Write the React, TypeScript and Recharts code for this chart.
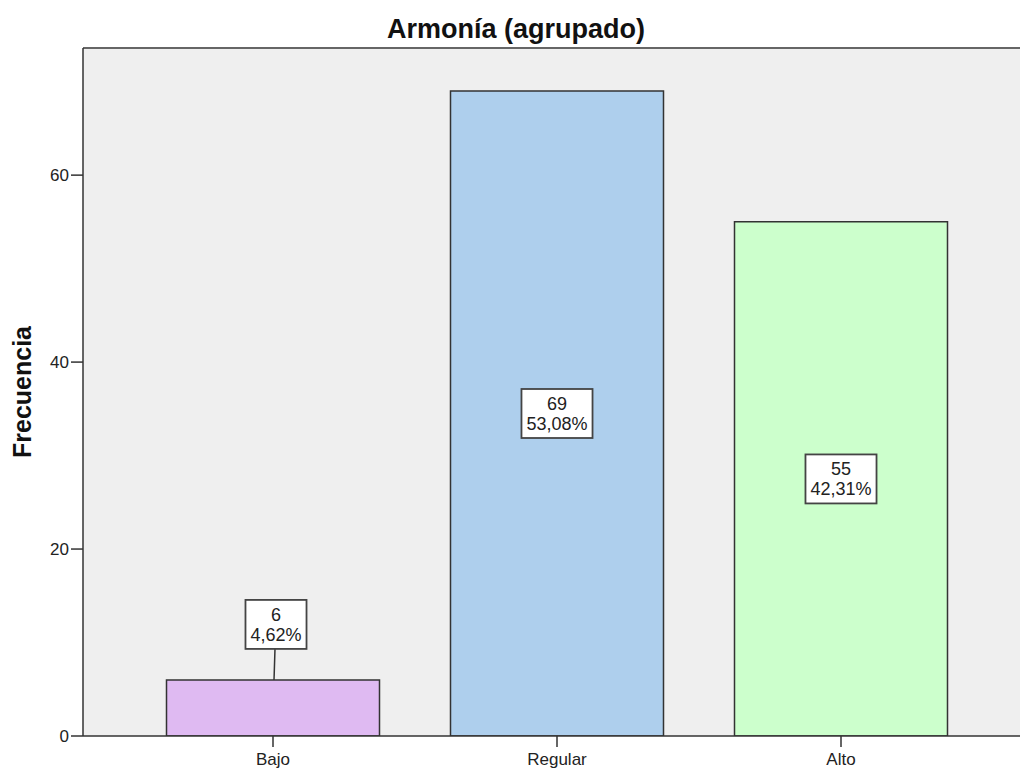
import React from 'react';
import { BarChart, Bar, XAxis, YAxis, CartesianGrid, Cell, LabelList, ReferenceLine, Label } from 'recharts';

const categories = ['Bajo', 'Regular', 'Alto'];
const counts = [6, 69, 55];
const percents = ['4,62%', '53,08%', '42,31%'];
const colors = ['#dfbaf2', '#aecfed', '#ccffcc'];
const yTicks = [0, 20, 40, 60];
const yMax = 73.6;
const title = 'Armonía (agrupado)';
const yLabel = 'Frecuencia';

const data = categories.map((c, i) => ({ name: c, value: counts[i] }));

const FONT = '"Liberation Sans", Arial, sans-serif';

const charW = (ch: string) => {
  if (/[0-9]/.test(ch)) return 0.556;
  if (ch === ',') return 0.278;
  if (ch === '%') return 0.889;
  return 0.556;
};
const textWidth = (s: string) => s.split('').reduce((a, c) => a + charW(c), 0);

const BoxLabel = (props: any) => {
  const { x, y, width, height, index } = props;
  const fs = 18;
  const lines = [String(counts[index]), percents[index]];
  const bw = Math.max(...lines.map(textWidth)) * fs + 10;
  const bh = 49;
  const cx = x + width / 2;
  let cy = y + height / 2;
  let leader = null;
  if (height < bh + 10) {
    cy = y - 31 - bh / 2;
    leader = <line x1={cx + 2} y1={cy + bh / 2} x2={cx + 1} y2={y} stroke="#333" strokeWidth={1.5} />;
  }
  const bx = leader ? cx + 3 : cx;
  return (
    <g>
      {leader}
      <rect x={bx - bw / 2} y={cy - bh / 2} width={bw} height={bh} fill="#ffffff" stroke="#444" strokeWidth={1.8} />
      <text x={bx} y={cy - 3.5} textAnchor="middle" fontSize={fs} fontFamily={FONT} fill="#222">{lines[0]}</text>
      <text x={bx} y={cy + 16.5} textAnchor="middle" fontSize={fs} fontFamily={FONT} fill="#222">{lines[1]}</text>
    </g>
  );
};

const YLabelContent = (props: any) => {
  const vb = props.viewBox || {};
  const x = vb.x + 22;
  const y = vb.y + vb.height / 2;
  return (
    <text x={x} y={y} transform={`rotate(-90, ${x}, ${y})`} textAnchor="middle" dominantBaseline="central"
      fontSize={25} fontWeight="bold" fontFamily={FONT} fill="#111">{yLabel}</text>
  );
};

export default function App() {
  return (
    <div style={{ position: 'absolute', left: 0, top: 0, width: 1020, height: 770, overflow: 'hidden', background: '#fff' }}>
      <BarChart width={1040} height={770} data={data} margin={{ top: 48, right: 9, bottom: 4, left: 0 }} barCategoryGap="12.5%">
        <CartesianGrid fill="#efefef" stroke="none" horizontal={false} vertical={false} />
        <XAxis dataKey="name" height={30} padding={{ left: 48, right: 48 }} stroke="#333" strokeWidth={1.5}
          tickSize={11} tickMargin={6} tick={{ fill: '#222', fontSize: 17, fontFamily: FONT }} />
        <YAxis width={83} domain={[0, yMax]} ticks={yTicks} stroke="#333" strokeWidth={1.5}
          tickSize={12} tickMargin={2} tick={{ fill: '#222', fontSize: 17, fontFamily: FONT }} allowDataOverflow>
          <Label content={YLabelContent} />
        </YAxis>
        <ReferenceLine y={yMax} stroke="#666" strokeWidth={2} />
        <Bar dataKey="value" isAnimationActive={false} stroke="#333" strokeWidth={1.5}>
          {data.map((d, i) => <Cell key={d.name} fill={colors[i]} />)}
          <LabelList dataKey="value" content={BoxLabel} />
        </Bar>
      </BarChart>
      <svg width={1020} height={50} style={{ position: 'absolute', left: 0, top: 0 }}>
        <text x={516} y={38} textAnchor="middle" fontSize={27} fontWeight="bold" fontFamily={FONT} fill="#111">{title}</text>
      </svg>
    </div>
  );
}
